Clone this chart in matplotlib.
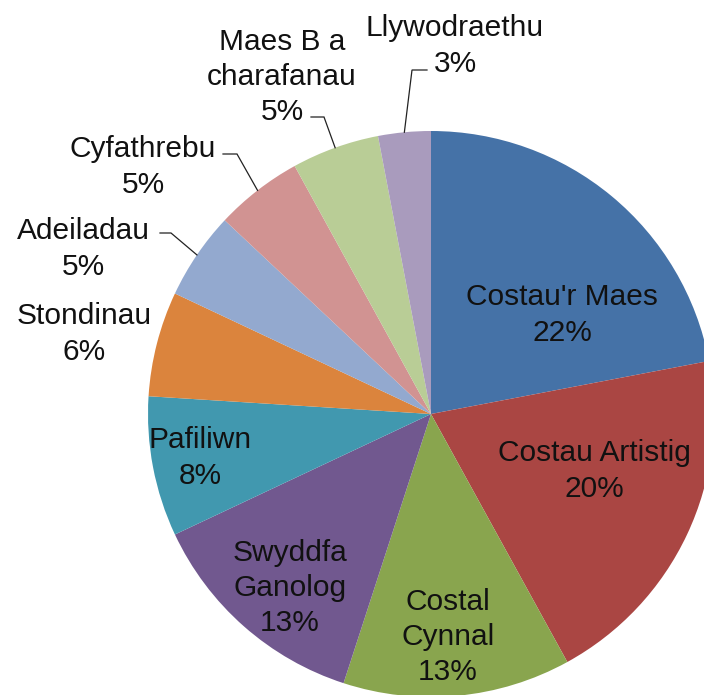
import numpy as np
import matplotlib
matplotlib.use("Agg")
import matplotlib.pyplot as plt

# data
categories = ["Costau'r Maes", "Costau Artistig", "Costal\nCynnal", "Swyddfa\nGanolog",
              "Pafiliwn", "Stondinau", "Adeiladau", "Cyfathrebu",
              "Maes B a\ncharafanau", "Llywodraethu"]
shares = [22, 20, 13, 13, 8, 6, 5, 5, 5, 3]
colors = ["#4572A7", "#AA4643", "#89A54E", "#71588F", "#4198AF",
          "#DB843D", "#93A9CF", "#D19392", "#B9CD96", "#A99BBD"]

# layout in pixel coords (y from the top), label block centres
label_pos = [(562, 315), (594, 471), (448, 637), (290, 588), (200, 458),
             (84, 334), (83, 249), (143, 167), (282, 77), (455, 46)]
# leader line elbows: (x_start, x_elbow, y) for the labels outside the pie
leaders = {6: (160, 171, 233), 7: (223, 237, 154), 8: (311, 324, 117), 9: (427, 412, 70)}

W, H = 704, 695
cx, cy, R = 431, 414, 283

plt.rcParams['font.family'] = ['Liberation Sans', 'DejaVu Sans']

fig = plt.figure(figsize=(W / 100, H / 100), dpi=100)
ax = fig.add_axes([0, 0, 1, 1])

wedges, _ = ax.pie(shares, colors=colors, startangle=90, counterclock=False,
                   center=(cx, H - cy), radius=R, wedgeprops=dict(linewidth=0))

for i, w in enumerate(wedges):
    x, y = label_pos[i]
    ax.text(x, H - y, categories[i] + "\n" + f"{shares[i]}%", ha='center', va='center',
            multialignment='center', fontsize=21.5, color='#111111', linespacing=1.32)
    if i in leaders:
        mid = np.deg2rad((w.theta1 + w.theta2) / 2)
        ex, ey = cx + R * np.cos(mid), (H - cy) + R * np.sin(mid)
        xs, xe, yl = leaders[i]
        ax.plot([xs, xe, ex], [H - yl, H - yl, ey], color='#222222', lw=0.9,
                solid_joinstyle='miter')

ax.set_xlim(0, W)
ax.set_ylim(0, H)
ax.set_aspect('equal')
ax.axis('off')

fig.savefig("out.png", dpi=100)
